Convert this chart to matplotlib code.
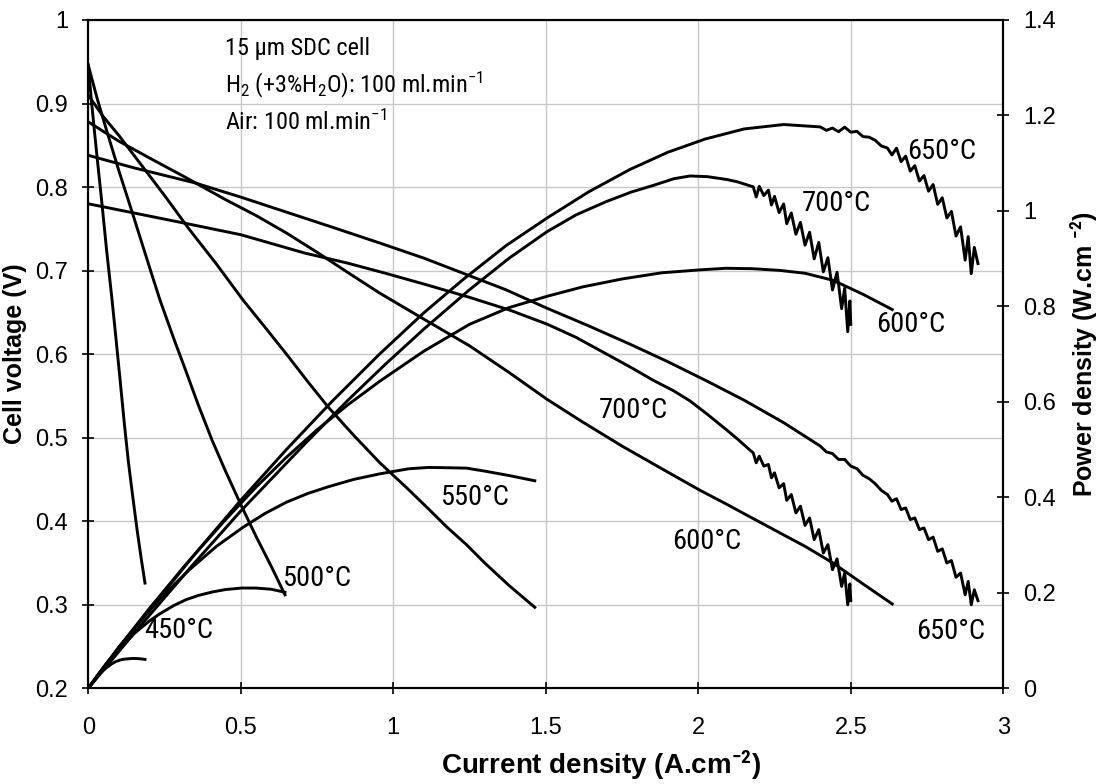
import matplotlib
matplotlib.use("Agg")
import matplotlib.pyplot as plt
from matplotlib.ticker import FuncFormatter

# current density (A/cm2) and cell voltage (V) for each temperature
i450 = [0, 0.01, 0.02, 0.03, 0.045, 0.06, 0.078, 0.09, 0.105, 0.118, 0.131,
        0.145, 0.16, 0.173, 0.186]
v450 = [0.946, 0.905, 0.868, 0.832, 0.78, 0.725, 0.665, 0.622, 0.567, 0.518, 0.473,
        0.432, 0.39, 0.357, 0.326]

i500 = [0, 0.03, 0.06, 0.1, 0.15, 0.2, 0.235, 0.28, 0.32, 0.36, 0.406, 0.45,
        0.504, 0.55, 0.6, 0.645]
v500 = [0.946, 0.905, 0.868, 0.82, 0.763, 0.705, 0.665, 0.619, 0.58, 0.54, 0.497, 0.46,
        0.417, 0.382, 0.346, 0.312]

i550 = [0, 0.05, 0.1, 0.175, 0.25, 0.33, 0.42, 0.507, 0.58, 0.65, 0.72, 0.786,
        0.87, 0.956, 1.05, 1.115, 1.176, 1.24, 1.3, 1.38, 1.464]
v550 = [0.910, 0.884, 0.862, 0.826, 0.79, 0.75, 0.708, 0.665, 0.632, 0.60, 0.567, 0.537,
        0.503, 0.470, 0.438, 0.415, 0.393, 0.372, 0.35, 0.323, 0.297]

i600 = [0, 0.1, 0.2, 0.317, 0.45, 0.55, 0.65, 0.75, 0.85, 0.956, 1.1, 1.25, 1.38,
        1.504, 1.62, 1.75, 1.88, 2.006, 2.09, 2.176, 2.268, 2.35, 2.442, 2.54, 2.636]
v600 = [0.878, 0.855, 0.835, 0.812, 0.785, 0.766, 0.745, 0.722, 0.698, 0.673, 0.642,
        0.61, 0.578, 0.546, 0.519, 0.49, 0.463, 0.437, 0.421, 0.404, 0.386, 0.37,
        0.350, 0.325, 0.301]

i650 = [0, 0.15, 0.35, 0.5, 0.65, 0.8, 0.956, 1.1, 1.228, 1.37, 1.504, 1.64, 1.776,
        1.9, 2.022, 2.15, 2.28, 2.4, 2.42, 2.44, 2.46, 2.48, 2.5, 2.52, 2.54, 2.56,
        2.58, 2.6, 2.62, 2.635, 2.65, 2.665, 2.68, 2.695, 2.71, 2.725, 2.74, 2.755,
        2.77, 2.785, 2.80, 2.815, 2.83, 2.845, 2.86, 2.875, 2.885, 2.895, 2.905,
        2.917]
v650 = [0.838, 0.823, 0.805, 0.788, 0.77, 0.752, 0.733, 0.715, 0.697, 0.677, 0.655,
        0.634, 0.612, 0.591, 0.569, 0.545, 0.518, 0.49, 0.483, 0.481, 0.474, 0.474,
        0.466, 0.463, 0.455, 0.451, 0.445, 0.437, 0.432, 0.424, 0.427, 0.414, 0.416,
        0.402, 0.404, 0.390, 0.392, 0.378, 0.381, 0.364, 0.367, 0.350, 0.353, 0.333,
        0.338, 0.312, 0.328, 0.300, 0.318, 0.305]

i700 = [0, 0.15, 0.34, 0.5, 0.71, 0.85, 0.973, 1.1, 1.25, 1.38, 1.504, 1.6, 1.70,
        1.78, 1.851, 1.92, 1.973, 2.03, 2.094, 2.13, 2.17, 2.18, 2.19, 2.20, 2.215,
        2.23, 2.24, 2.25, 2.265, 2.28, 2.29, 2.305, 2.32, 2.335, 2.35, 2.365, 2.38,
        2.395, 2.41, 2.425, 2.44, 2.455, 2.47, 2.48, 2.49, 2.497, 2.50]
v700 = [0.780, 0.769, 0.755, 0.743, 0.721, 0.709, 0.697, 0.684, 0.668, 0.653, 0.636,
        0.62, 0.60, 0.584, 0.569, 0.556, 0.544, 0.528, 0.509, 0.498, 0.485, 0.482,
        0.470, 0.478, 0.466, 0.468, 0.452, 0.458, 0.440, 0.445, 0.425, 0.432, 0.410,
        0.418, 0.395, 0.404, 0.378, 0.390, 0.362, 0.372, 0.342, 0.355, 0.322, 0.338,
        0.300, 0.325, 0.305]

curves = [(i450, v450), (i500, v500), (i550, v550),
          (i600, v600), (i650, v650), (i700, v700)]

plt.rcParams['font.family'] = ['Liberation Sans', 'DejaVu Sans']
plt.rcParams['mathtext.fontset'] = 'custom'
plt.rcParams['mathtext.rm'] = 'Roboto Condensed'
plt.rcParams['mathtext.it'] = 'Roboto Condensed'
plt.rcParams['mathtext.bf'] = 'Roboto Condensed:bold'
narrow = ['Roboto Condensed', 'DejaVu Sans']

fig = plt.figure(figsize=(10.99, 7.84), dpi=100)
ax = fig.add_axes([0.0803, 0.122, 0.8326, 0.8525])
ax2 = ax.twinx()

for cur, volt in curves:
    power = [c * v for c, v in zip(cur, volt)]
    ax.plot(cur, volt, color='black', lw=2.1, zorder=3, solid_joinstyle='round')
    ax2.plot(cur, power, color='black', lw=2.1, zorder=3, solid_joinstyle='round')

ax.set_xlim(0, 3)
ax.set_ylim(0.2, 1.0)
ax2.set_ylim(0, 1.4)
ax.set_xticks([0, 0.5, 1, 1.5, 2, 2.5, 3])
ax.set_yticks([0.2, 0.3, 0.4, 0.5, 0.6, 0.7, 0.8, 0.9, 1.0])
ax2.set_yticks([0, 0.2, 0.4, 0.6, 0.8, 1.0, 1.2, 1.4])
fmt = FuncFormatter(lambda v, p: '%g' % round(v, 2))
ax.xaxis.set_major_formatter(fmt)
ax.yaxis.set_major_formatter(fmt)
ax2.yaxis.set_major_formatter(fmt)

ax.grid(True, color='#c8c8c8', lw=1.0)
ax.set_axisbelow(True)
for a in (ax, ax2):
    a.tick_params(direction='inout', length=9, width=1.2, labelsize=17, colors='black')
    for s in a.spines.values():
        s.set_linewidth(1.5)
ax.tick_params(axis='x', pad=16)
ax.tick_params(axis='y', pad=10)
ax2.tick_params(axis='y', pad=10)

ax.set_xlabel(r'Current density (A.cm$^{\mathbf{-2}}$)', fontsize=20, fontweight='bold')
ax.xaxis.label.set_va('center')
ax.xaxis.set_label_coords(0.56, -0.115)
ax.set_ylabel('Cell voltage (V)', fontsize=18, fontweight='bold', labelpad=6)
ax2.set_ylabel(r'Power density (W.cm $^{\mathbf{-2}}$)', fontsize=18, fontweight='bold',
               labelpad=8)

note = dict(fontsize=20.5, family=narrow, ha='center', va='center')
ax.text(0.296, 0.269, '450°C', **note)
ax.text(0.750, 0.332, '500°C', **note)
ax.text(1.265, 0.428, '550°C', **note)
ax.text(2.029, 0.376, '600°C', **note)
ax.text(1.786, 0.532, '700°C', **note)
ax.text(2.829, 0.268, '650°C', **note)
ax.text(2.799, 0.842, '650°C', **note)
ax.text(2.452, 0.780, '700°C', **note)
ax.text(2.698, 0.636, '600°C', **note)

box = dict(fontsize=17.5, family=narrow, ha='left', va='center', transform=ax.transAxes)
ax.text(0.149, 0.958, '15 µm SDC cell', **box)
ax.text(0.149, 0.903, r'H$_2$ (+3%H$_2$O): 100 ml.min$^{-1}$', **box)
ax.text(0.149, 0.847, r'Air: 100 ml.min$^{-1}$', **box)

fig.savefig('out.png', dpi=100)
